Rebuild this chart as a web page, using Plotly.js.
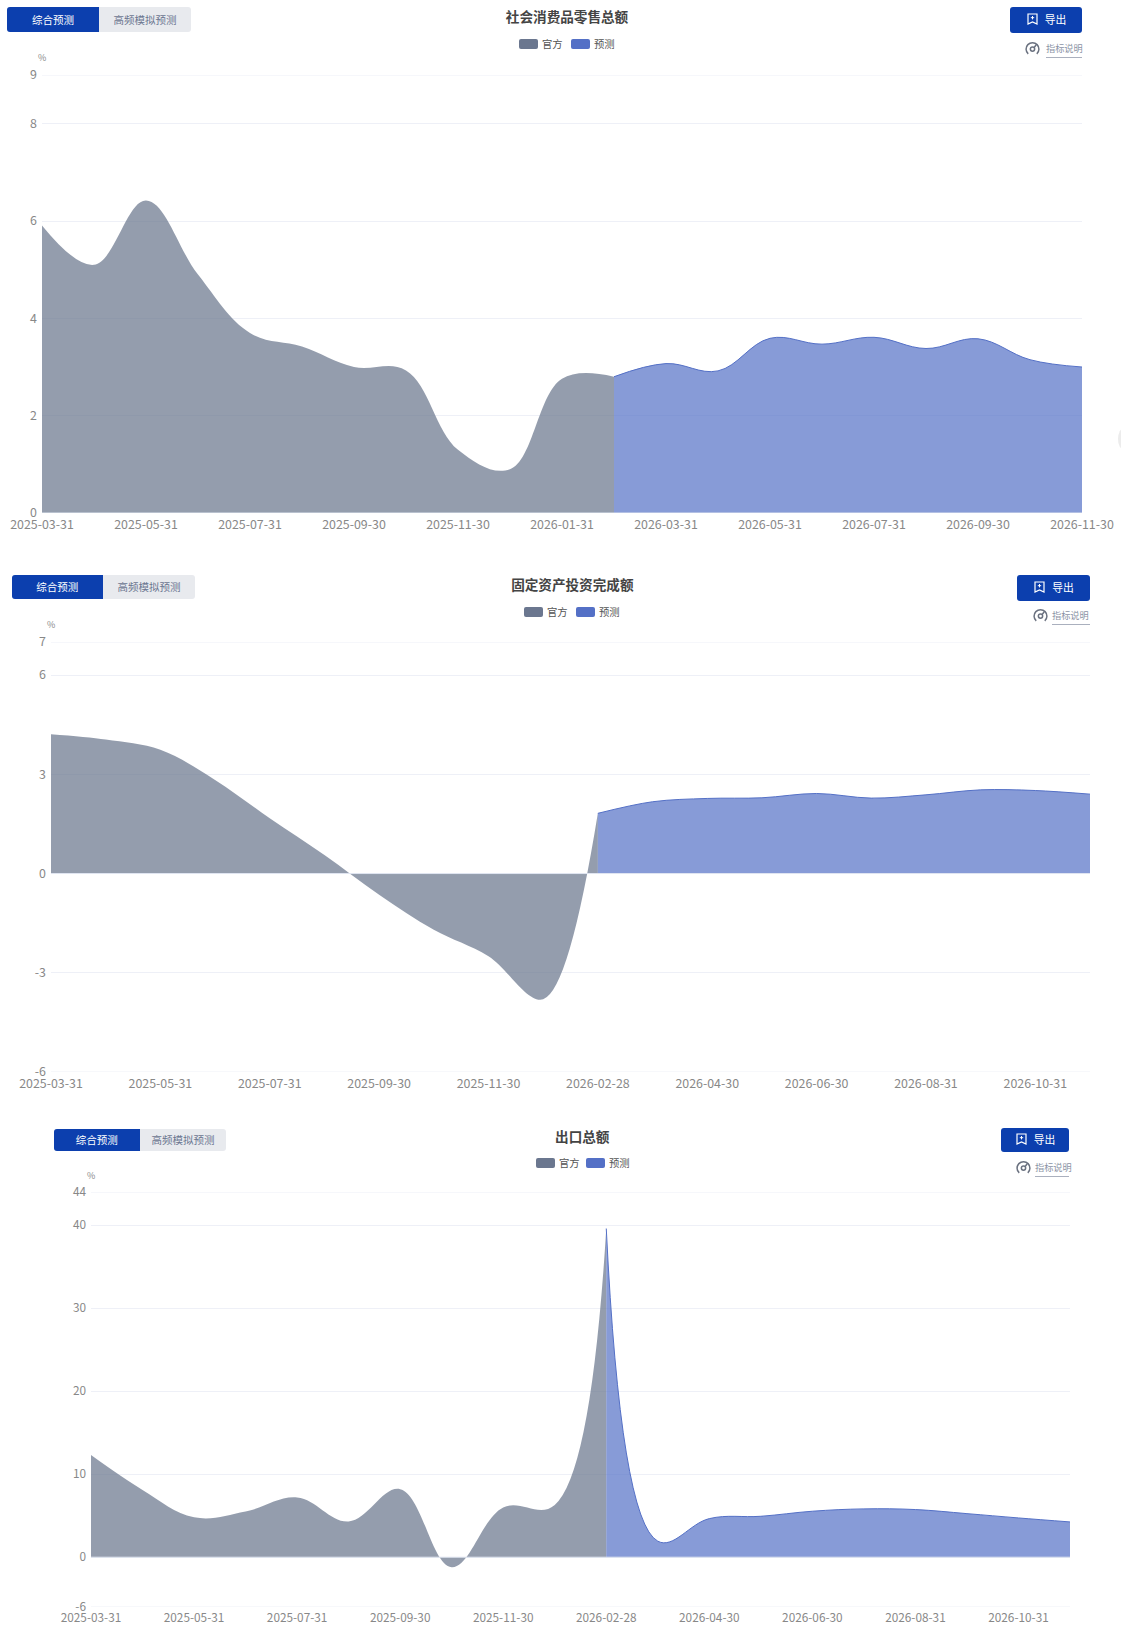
<!DOCTYPE html>
<html lang="zh"><head><meta charset="utf-8">
<script src="https://cdn.plot.ly/plotly-3.0.1.min.js"></script>
<style>
html,body{margin:0;padding:0;background:#fff;width:1121px;height:1628px;overflow:hidden;font-family:"Noto Sans CJK SC","Noto Sans",sans-serif}
.plot{position:absolute;left:0;width:1121px}
.ui{position:absolute;box-sizing:border-box;white-space:nowrap}
.tabs{background:#e8eaee;border-radius:3px;color:#6b7690;font-size:10.5px;text-align:center}
.tabs b{position:absolute;left:0;top:0;bottom:0;background:#0c3fae;color:#fff;font-weight:400;border-radius:3px 0 0 3px;display:flex;align-items:center;justify-content:center;padding-bottom:1px;box-sizing:border-box}
.tabs span{position:absolute;top:0;bottom:0;right:0;display:flex;align-items:center;justify-content:center;padding-bottom:1px;box-sizing:border-box}
.exp{background:#0c3fae;border-radius:3px;color:#fff;font-size:10.8px;display:flex;align-items:center;justify-content:center;gap:7px;padding:0 0 2px 1px}
.note{color:#8b93a5;font-size:9.2px;line-height:10px;border-bottom:1px solid #aab0be;padding-bottom:4px}
.sw{border-radius:2px}
.lg{color:#555;font-size:10.3px;line-height:12px}
</style></head><body>
<div id="c1" class="plot" style="top:0;height:550px"></div>
<div id="c2" class="plot" style="top:555px;height:550px"></div>
<div id="c3" class="plot" style="top:1110px;height:518px"></div>
<script>
const officialName = "官方", forecastName = "预测";
const tabA = "综合预测", tabB = "高频模拟预测", exportText = "导出", noteText = "指标说明";

const titleRetail = "社会消费品零售总额";
const datesRetail = ["2025-03-31","2025-04-30","2025-05-31","2025-06-30","2025-07-31","2025-08-31","2025-09-30","2025-10-31","2025-11-30","2025-12-31","2026-01-31","2026-02-28","2026-03-31","2026-04-30","2026-05-31","2026-06-30","2026-07-31","2026-08-31","2026-09-30","2026-10-31","2026-11-30"];
const officialRetail = [5.91,5.10,6.42,4.90,3.70,3.42,3.00,2.93,1.30,0.90,2.76,2.80];
const forecastRetail = [2.80,3.07,2.92,3.59,3.47,3.61,3.38,3.58,3.15,3.00];
const ticksRetail = [0,2,4,6,8,9];

const titleInvest = "固定资产投资完成额";
const datesInvest = ["2025-03-31","2025-04-30","2025-05-31","2025-06-30","2025-07-31","2025-08-31","2025-09-30","2025-10-31","2025-11-30","2025-12-31","2026-02-28","2026-03-31","2026-04-30","2026-05-31","2026-06-30","2026-07-31","2026-08-31","2026-09-30","2026-10-31","2026-11-30"];
const officialInvest = [4.21,4.05,3.74,2.83,1.67,0.56,-0.64,-1.70,-2.50,-3.80,1.82];
const forecastInvest = [1.82,2.17,2.27,2.29,2.42,2.28,2.38,2.53,2.51,2.40];
const ticksInvest = [-6,-3,0,3,6,7];

const titleExport = "出口总额";
const datesExport = datesInvest;
const officialExport = [12.3,8.1,4.8,5.5,7.2,4.3,8.2,-1.2,6.0,6.3,39.6];
const forecastExport = [39.6,1.93,4.65,4.93,5.54,5.82,5.74,5.25,4.73,4.25];
const ticksExport = [-6,0,10,20,30,40,44];

const GRAY = "#66738a", BLUE = "#5470c6", GRID = "#eef0f7";

function draw(id, top, h, c){
  const n = c.dates.length;
  const sm = c.sm;
  const tr = [
    {type:"scatter",mode:"lines",name:officialName,x:c.dates.slice(0,c.off.length),y:c.off,
     line:{color:GRAY,width:0,shape:"spline",smoothing:sm},fill:"tozeroy",fillcolor:"rgba(102,115,138,0.7)",hoverinfo:"x+y"},
    {type:"scatter",mode:"lines",name:forecastName,x:c.dates.slice(c.off.length-1),y:c.fc,
     line:{color:BLUE,width:1,shape:"spline",smoothing:sm},fill:"tozeroy",fillcolor:"rgba(84,112,198,0.7)",hoverinfo:"x+y"}
  ];
  const edge = v => ({type:"line",xref:"paper",x0:0,x1:1,yref:"y",y0:v,y1:v,line:{color:GRID,width:1},layer:"below"});
  const layout = {
    width:1121,height:h,paper_bgcolor:"#fff",plot_bgcolor:"#fff",showlegend:false,
    margin:{l:c.l,r:1121-c.r,t:c.t-top,b:top+h-c.b,autoexpand:false},
    title:{text:"<b>"+c.title+"</b>",x:(c.tx-c.l)/(c.r-c.l),xanchor:"center",xref:"paper",y:1-(c.ty-top)/h,yanchor:"middle",
      font:{family:'"Noto Sans CJK SC"',size:13.6,color:"#444"}},
    font:{family:'"Noto Sans CJK SC","Noto Sans",sans-serif',size:c.fs,color:"#888"},
    xaxis:{type:"category",categoryorder:"array",categoryarray:c.dates,range:[0,n-1],
      tickmode:"array",tickvals:c.dates.filter((d,i)=>i%2===0),ticktext:c.dates.filter((d,i)=>i%2===0),ticklabelstandoff:c.xo,
      showgrid:false,zeroline:false,showline:false,ticks:"",tickangle:0,tickfont:{size:c.fs,color:"#888"},automargin:false},
    yaxis:{range:c.yr,tickmode:"array",tickvals:c.ticks,ticktext:c.ticks.map(String),showgrid:true,gridcolor:GRID,gridwidth:1,ticklabelstandoff:4,ticklabelshift:-1.5,
      zeroline:false,showline:false,ticks:"",tickfont:{size:c.fs,color:"#888"},automargin:false},
    shapes:[edge(c.yr[0]),edge(c.yr[1]),{type:"line",xref:"paper",x0:0,x1:1,yref:"y",y0:0,y1:0,line:{color:"#e0e6f1",width:1},layer:"above"}],
    annotations:[{text:"%",xref:"paper",x:(c.ux-c.l)/(c.r-c.l),yref:"paper",y:(c.b-c.uy)/(c.b-c.t),showarrow:false,font:{size:9,color:"#888"},xanchor:"center",yanchor:"middle"}]
  };
  return Plotly.newPlot(id,tr,layout,{displayModeBar:false,staticPlot:true});
}

draw("c1",0,550,{title:titleRetail,tx:567,ty:17,dates:datesRetail,off:officialRetail,fc:forecastRetail,ticks:ticksRetail,yr:[0,9],l:41.5,r:1082.4,t:75,b:513,ux:41,uy:57,fs:12.4,xo:3,sm:1.1});
draw("c2",555,550,{title:titleInvest,tx:572.5,ty:585,dates:datesInvest,off:officialInvest,fc:forecastInvest,ticks:ticksInvest,yr:[-6,7],l:51.34,r:1090,t:642,b:1072.5,ux:51,uy:624,fs:12.4,xo:3,sm:1.0});
draw("c3",1110,518,{title:titleExport,tx:582,ty:1137,dates:datesExport,off:officialExport,fc:forecastExport,ticks:ticksExport,yr:[-6,44],l:90.9,r:1069.6,t:1191.7,b:1607.2,ux:91,uy:1175,fs:11.8,xo:2,sm:1.1});

function el(cls,css,html){const d=document.createElement("div");d.className="ui "+cls;d.style.cssText=css;d.innerHTML=html||"";document.body.appendChild(d);return d;}
const icoExp='<svg width="11" height="12" viewBox="0 0 11 12" fill="none" stroke="#fff" stroke-width="1.2"><path d="M1 1h9v10l-4.5-2L1 11z"/><path d="M5.5 3v3.4M3.8 4.7h3.4" stroke-width="1"/></svg>';
const icoNote='<svg width="15" height="15" viewBox="0 0 14 14" fill="none" stroke="#6b7280" stroke-width="1.4"><path d="M3 12A6 6 0 1 1 11 12"/><circle cx="7" cy="7.5" r="2"/><path d="M8.5 6l2-2.5"/></svg>';
function chrome(u){
  el("tabs",`left:${u.t0}px;top:${u.y0}px;width:${u.t2-u.t0}px;height:${u.y1-u.y0}px`,
    `<b style="width:${u.t1-u.t0}px">${tabA}</b><span style="width:${u.t2-u.t1}px">${tabB}</span>`);
  el("exp",`left:${u.e0}px;top:${u.ey0}px;width:${u.e1-u.e0}px;height:${u.ey1-u.ey0}px`,icoExp+`<span>${exportText}</span>`);
  el("",`left:${u.i}px;top:${u.ny-7}px;line-height:0`,icoNote);
  el("note",`left:${u.n0}px;top:${u.ny-5}px;width:${u.e1-u.n0}px`,noteText);
  el("sw",`left:${u.s1}px;top:${u.sy}px;width:19px;height:10px;background:#6b778f`);
  el("lg",`left:${u.s1+23}px;top:${u.sy-1}px`,officialName);
  el("sw",`left:${u.s2}px;top:${u.sy}px;width:19px;height:10px;background:#5470c6`);
  el("lg",`left:${u.s2+23}px;top:${u.sy-1}px`,forecastName);
}
chrome({t0:7,t1:99,t2:191,y0:7,y1:32,e0:1010,e1:1082,ey0:7,ey1:33,n0:1046,i:1025,ny:48,s1:519,s2:571,sy:39});
chrome({t0:11.5,t1:103,t2:195,y0:575,y1:599,e0:1017,e1:1090,ey0:575,ey1:601,n0:1052,i:1033,ny:615,s1:524,s2:576,sy:607});
chrome({t0:53.5,t1:140,t2:226,y0:1129,y1:1151,e0:1001,e1:1069,ey0:1128,ey1:1152,n0:1035,i:1016,ny:1167,s1:536,s2:586,sy:1158});
el("",'left:1118px;top:428px;width:12px;height:22px;border-radius:50%;background:#ececec');
</script></body></html>
